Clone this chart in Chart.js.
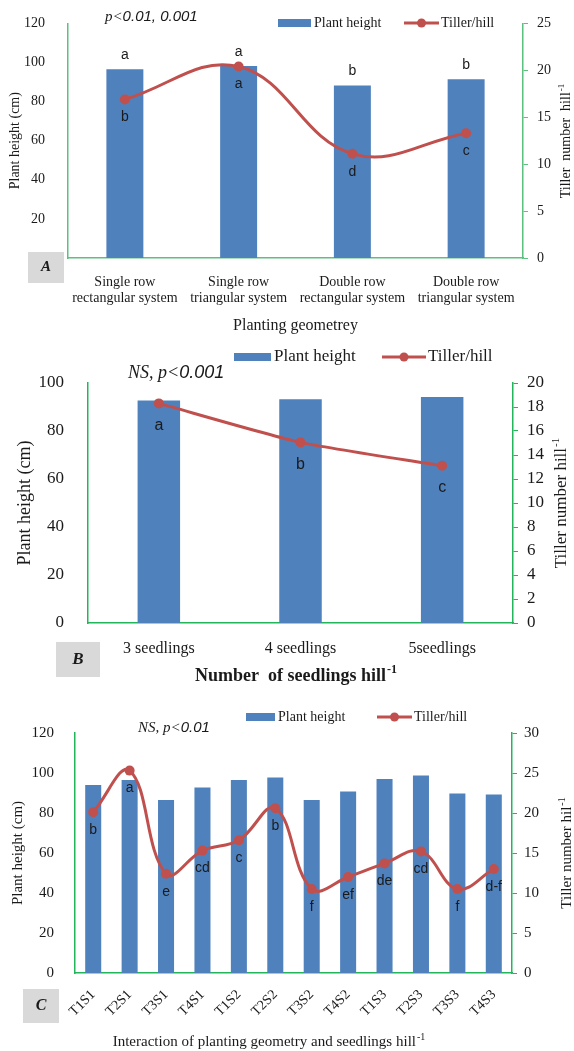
<!DOCTYPE html>
<html>
<head>
<meta charset="utf-8">
<script src="https://cdn.jsdelivr.net/npm/chart.js@4.4.1/dist/chart.umd.min.js"></script>
<style>
  html, body { margin: 0; padding: 0; background: #fff; }
  body { width: 574px; height: 1051px; position: relative; overflow: hidden; }
  .panel { position: absolute; left: 0; width: 574px; }
</style>
</head>
<body>
<div class="panel" style="top:0;height:340px"><canvas id="chartA"></canvas></div>
<div class="panel" style="top:340px;height:350px"><canvas id="chartB"></canvas></div>
<div class="panel" style="top:690px;height:361px"><canvas id="chartC"></canvas></div>
<script>
// Panel A: planting geometry
const geometryLabels = [
  ["Single row", "rectangular system"],
  ["Single row", "triangular system"],
  ["Double row", "rectangular system"],
  ["Double row", "triangular system"]
];
const geometryHeight = [96.5, 98.2, 88.2, 91.4];
const geometryTiller = [16.9, 20.4, 11.1, 13.3];
const geometryHeightLetters = ["a", "a", "b", "b"];
const geometryTillerLetters = ["b", "a", "d", "c"];

// Panel B: seedlings per hill
const seedlingLabels = ["3 seedlings", "4 seedlings", "5seedlings"];
const seedlingHeight = [92.7, 93.2, 94.2];
const seedlingTiller = [18.3, 15.05, 13.1];
const seedlingTillerLetters = ["a", "b", "c"];

// Panel C: interaction
const interactionLabels = ["T1S1", "T2S1", "T3S1", "T4S1", "T1S2", "T2S2", "T3S2", "T4S2", "T1S3", "T2S3", "T3S3", "T4S3"];
const interactionHeight = [94, 96.5, 86.5, 92.8, 96.5, 97.7, 86.5, 90.7, 97, 98.8, 89.8, 89.3];
const interactionTiller = [20.1, 25.3, 12.4, 15.3, 16.6, 20.6, 10.5, 12.0, 13.7, 15.2, 10.5, 13.0];
const interactionTillerLetters = ["b", "a", "e", "cd", "c", "b", "f", "ef", "de", "cd", "f", "d-f"];

const BLUE = "#4F81BD";
const RED = "#C0504D";
const INK = "#1a1a1a";
const SERIF = "'Liberation Serif', 'Times New Roman', serif";
const SANS = "'Liberation Sans', Arial, sans-serif";

Chart.defaults.font.family = SERIF;
Chart.defaults.color = INK;
Chart.defaults.animation = false;

function drawSegments(ctx, segs, x, y) {
  ctx.textAlign = "left";
  ctx.textBaseline = "middle";
  ctx.fillStyle = INK;
  segs.forEach(s => {
    ctx.font = s.font;
    ctx.fillText(s.text, x, y);
    x += ctx.measureText(s.text).width;
  });
}

// text with a "-1" superscript, centred on cx, cy
function drawSupText(ctx, base, sup, cx, cy, size, rot, weight) {
  const w = weight || "normal";
  ctx.save();
  ctx.translate(cx, cy);
  ctx.rotate(rot);
  ctx.fillStyle = INK;
  ctx.textAlign = "left";
  ctx.textBaseline = "middle";
  ctx.font = w + " " + size + "px " + SERIF;
  const wb = ctx.measureText(base).width;
  const supFont = w + " " + Math.round(size * 0.65) + "px " + SERIF;
  ctx.font = supFont;
  const ws = ctx.measureText(sup).width;
  const start = -(wb + ws + 1) / 2;
  ctx.font = w + " " + size + "px " + SERIF;
  ctx.fillText(base, start, 0);
  ctx.font = supFont;
  ctx.fillText(sup, start + wb + 1, -size * 0.33);
  ctx.restore();
}

function drawLegend(ctx, L) {
  ctx.fillStyle = BLUE;
  ctx.fillRect(L.rectX, L.y - 4, L.rectW, 8);
  ctx.strokeStyle = RED;
  ctx.lineWidth = 3;
  ctx.beginPath();
  ctx.moveTo(L.lineX, L.y);
  ctx.lineTo(L.lineX + L.lineW, L.y);
  ctx.stroke();
  ctx.fillStyle = RED;
  ctx.beginPath();
  ctx.arc(L.lineX + L.lineW / 2, L.y, 4.5, 0, Math.PI * 2);
  ctx.fill();
  ctx.fillStyle = INK;
  ctx.font = L.size + "px " + SERIF;
  ctx.textAlign = "left";
  ctx.textBaseline = "middle";
  ctx.fillText("Plant height", L.rectX + L.rectW + 3, L.y);
  ctx.fillText("Tiller/hill", L.lineX + L.lineW + 2, L.y);
}

function drawBox(ctx, B) {
  ctx.fillStyle = "#d9d9d9";
  ctx.fillRect(B.x, B.y, B.w, B.h);
  ctx.fillStyle = INK;
  ctx.font = "bold italic " + B.size + "px " + SERIF;
  ctx.textAlign = "center";
  ctx.textBaseline = "middle";
  ctx.fillText(B.text, B.x + B.w / 2, B.y + B.h / 2);
}

function annotate(spec) {
  return {
    id: "annotate" + spec.name,
    afterDatasetsDraw(chart) {
      const ctx = chart.ctx;
      const x = chart.scales.x, y = chart.scales.y, y1 = chart.scales.y1;
      ctx.save();
      ctx.fillStyle = INK;
      ctx.font = spec.letterSize + "px " + SANS;
      ctx.textAlign = "center";
      ctx.textBaseline = "middle";
      if (spec.barLetters) {
        spec.barLetters.forEach((t, i) => {
          ctx.fillText(t, x.getPixelForValue(i), y.getPixelForValue(spec.bars[i]) - 14);
        });
      }
      spec.pointLetters.forEach((t, i) => {
        ctx.fillText(t, x.getPixelForValue(i), y1.getPixelForValue(spec.points[i]) + spec.letterGap);
      });
      ctx.restore();
    },
    afterDraw(chart) {
      const ctx = chart.ctx;
      ctx.save();
      drawLegend(ctx, spec.legend);
      drawBox(ctx, spec.box);
      drawSegments(ctx, spec.pText, spec.pPos[0], spec.pPos[1]);
      const rt = spec.rightTitle;
      drawSupText(ctx, rt.base, "-1", rt.x, rt.y, rt.size, -Math.PI / 2);
      if (spec.xTitle) {
        const xt = spec.xTitle;
        drawSupText(ctx, xt.base, "-1", xt.x, xt.y, xt.size, 0, xt.weight);
      }
      ctx.restore();
    }
  };
}

function makeChart(id, o) {
  const green = o.green;
  return new Chart(document.getElementById(id), {
    type: "bar",
    data: {
      labels: o.labels,
      datasets: [
        {
          type: "line",
          label: "Tiller/hill",
          data: o.points,
          yAxisID: "y1",
          borderColor: RED,
          backgroundColor: RED,
          borderWidth: 3,
          pointRadius: 5,
          pointBackgroundColor: RED,
          pointBorderWidth: 0,
          tension: o.tension,
          order: 0
        },
        {
          label: "Plant height",
          data: o.bars,
          yAxisID: "y",
          backgroundColor: BLUE,
          categoryPercentage: 1,
          barPercentage: o.barPct,
          order: 1
        }
      ]
    },
    options: {
      responsive: true,
      maintainAspectRatio: false,
      layout: { padding: { top: o.top, left: 0, right: 0, bottom: 0 } },
      plugins: { legend: { display: false }, tooltip: { enabled: false } },
      scales: {
        x: {
          offset: true,
          grid: { display: false },
          border: { display: true, color: green, width: 1.5 },
          ticks: {
            font: { size: o.xTickSize, lineHeight: 1.1 },
            padding: o.xTickPad,
            autoSkip: false,
            maxRotation: o.rotation,
            minRotation: o.rotation
          },
          title: o.xTitleText ? {
            display: true, text: o.xTitleText, font: { size: 16 }, padding: { bottom: 5 }
          } : { display: false },
          afterFit: s => { s.height = o.xHeight; }
        },
        y: {
          position: "left",
          min: 0, max: o.yMax,
          grid: { display: false },
          border: { display: true, color: green, width: 1.5 },
          ticks: { stepSize: o.yStep, font: { size: o.yTickSize }, padding: o.yPad },
          title: { display: true, text: "Plant height (cm)", font: { size: o.yTitleSize }, padding: { top: o.yTitlePad } },
          afterFit: s => { s.width = o.leftW; }
        },
        y1: {
          position: "right",
          min: 0, max: o.y1Max,
          grid: { display: true, drawOnChartArea: false, drawTicks: true, tickLength: 5, color: green, lineWidth: 1 },
          border: { display: true, color: green, width: 1.5 },
          ticks: { stepSize: o.y1Step, font: { size: o.yTickSize }, padding: o.y1Pad },
          afterFit: s => { s.width = o.rightW; }
        }
      }
    },
    plugins: [annotate(o.spec)]
  });
}

makeChart("chartA", {
  labels: geometryLabels, bars: geometryHeight, points: geometryTiller,
  green: "#5cc07f", tension: 0.4, barPct: 0.325,
  top: 20, xHeight: 82, leftW: 68, rightW: 51,
  xTickSize: 14, xTickPad: 9, rotation: 0, xTitleText: "Planting geometrey",
  yMax: 120, yStep: 20, yTickSize: 14, yPad: 15, yTitleSize: 14, yTitlePad: 7,
  y1Max: 25, y1Step: 5, y1Pad: 9,
  spec: {
    name: "A", bars: geometryHeight, points: geometryTiller,
    barLetters: geometryHeightLetters, pointLetters: geometryTillerLetters,
    letterSize: 14, letterGap: 18,
    legend: { rectX: 278, rectW: 33, lineX: 404, lineW: 35, y: 23, size: 14 },
    box: { x: 28, y: 252, w: 36, h: 31, text: "A", size: 15 },
    pText: [{ text: "p<", font: "italic 15px " + SERIF }, { text: "0.01, 0.001", font: "italic 15px " + SANS }],
    pPos: [105, 17],
    rightTitle: { base: "Tiller  number  hill", x: 566, y: 141, size: 14 }
  }
});

makeChart("chartB", {
  labels: seedlingLabels, bars: seedlingHeight, points: seedlingTiller,
  green: "#22b55a", tension: 0.2, barPct: 0.30,
  top: 43, xHeight: 67, leftW: 88, rightW: 61,
  xTickSize: 16, xTickPad: 9, rotation: 0, xTitleText: null,
  yMax: 100, yStep: 20, yTickSize: 17, yPad: 16, yTitleSize: 18, yTitlePad: 14,
  y1Max: 20, y1Step: 2, y1Pad: 9,
  spec: {
    name: "B", points: seedlingTiller,
    pointLetters: seedlingTillerLetters,
    letterSize: 16, letterGap: 22,
    legend: { rectX: 234, rectW: 37, lineX: 382, lineW: 44, y: 17, size: 17 },
    box: { x: 56, y: 302, w: 44, h: 35, text: "B", size: 17 },
    pText: [{ text: "NS, p<", font: "italic 18px " + SERIF }, { text: "0.001", font: "italic 18px " + SANS }],
    pPos: [128, 33],
    rightTitle: { base: "Tiller number hill", x: 562, y: 163, size: 17 },
    xTitle: { base: "Number  of seedlings hill", x: 296, y: 336, size: 18, weight: "bold" }
  }
});

makeChart("chartC", {
  labels: interactionLabels, bars: interactionHeight, points: interactionTiller,
  green: "#22b55a", tension: 0.4, barPct: 0.44,
  top: 43, xHeight: 78, leftW: 75, rightW: 62,
  xTickSize: 14, xTickPad: 6, rotation: 45, xTitleText: null,
  yMax: 120, yStep: 20, yTickSize: 15, yPad: 13, yTitleSize: 15, yTitlePad: 9,
  y1Max: 30, y1Step: 5, y1Pad: 7,
  spec: {
    name: "C", points: interactionTiller,
    pointLetters: interactionTillerLetters,
    letterSize: 14, letterGap: 18,
    legend: { rectX: 246, rectW: 29, lineX: 377, lineW: 35, y: 27, size: 14 },
    box: { x: 23, y: 299, w: 36, h: 34, text: "C", size: 16 },
    pText: [{ text: "NS, p<", font: "italic 15px " + SERIF }, { text: "0.01", font: "italic 15px " + SANS }],
    pPos: [138, 38],
    rightTitle: { base: "Tiller number hil", x: 567, y: 163, size: 15 },
    xTitle: { base: "Interaction of planting geometry and seedlings hill", x: 269, y: 352, size: 15 }
  }
});
</script>
</body>
</html>
